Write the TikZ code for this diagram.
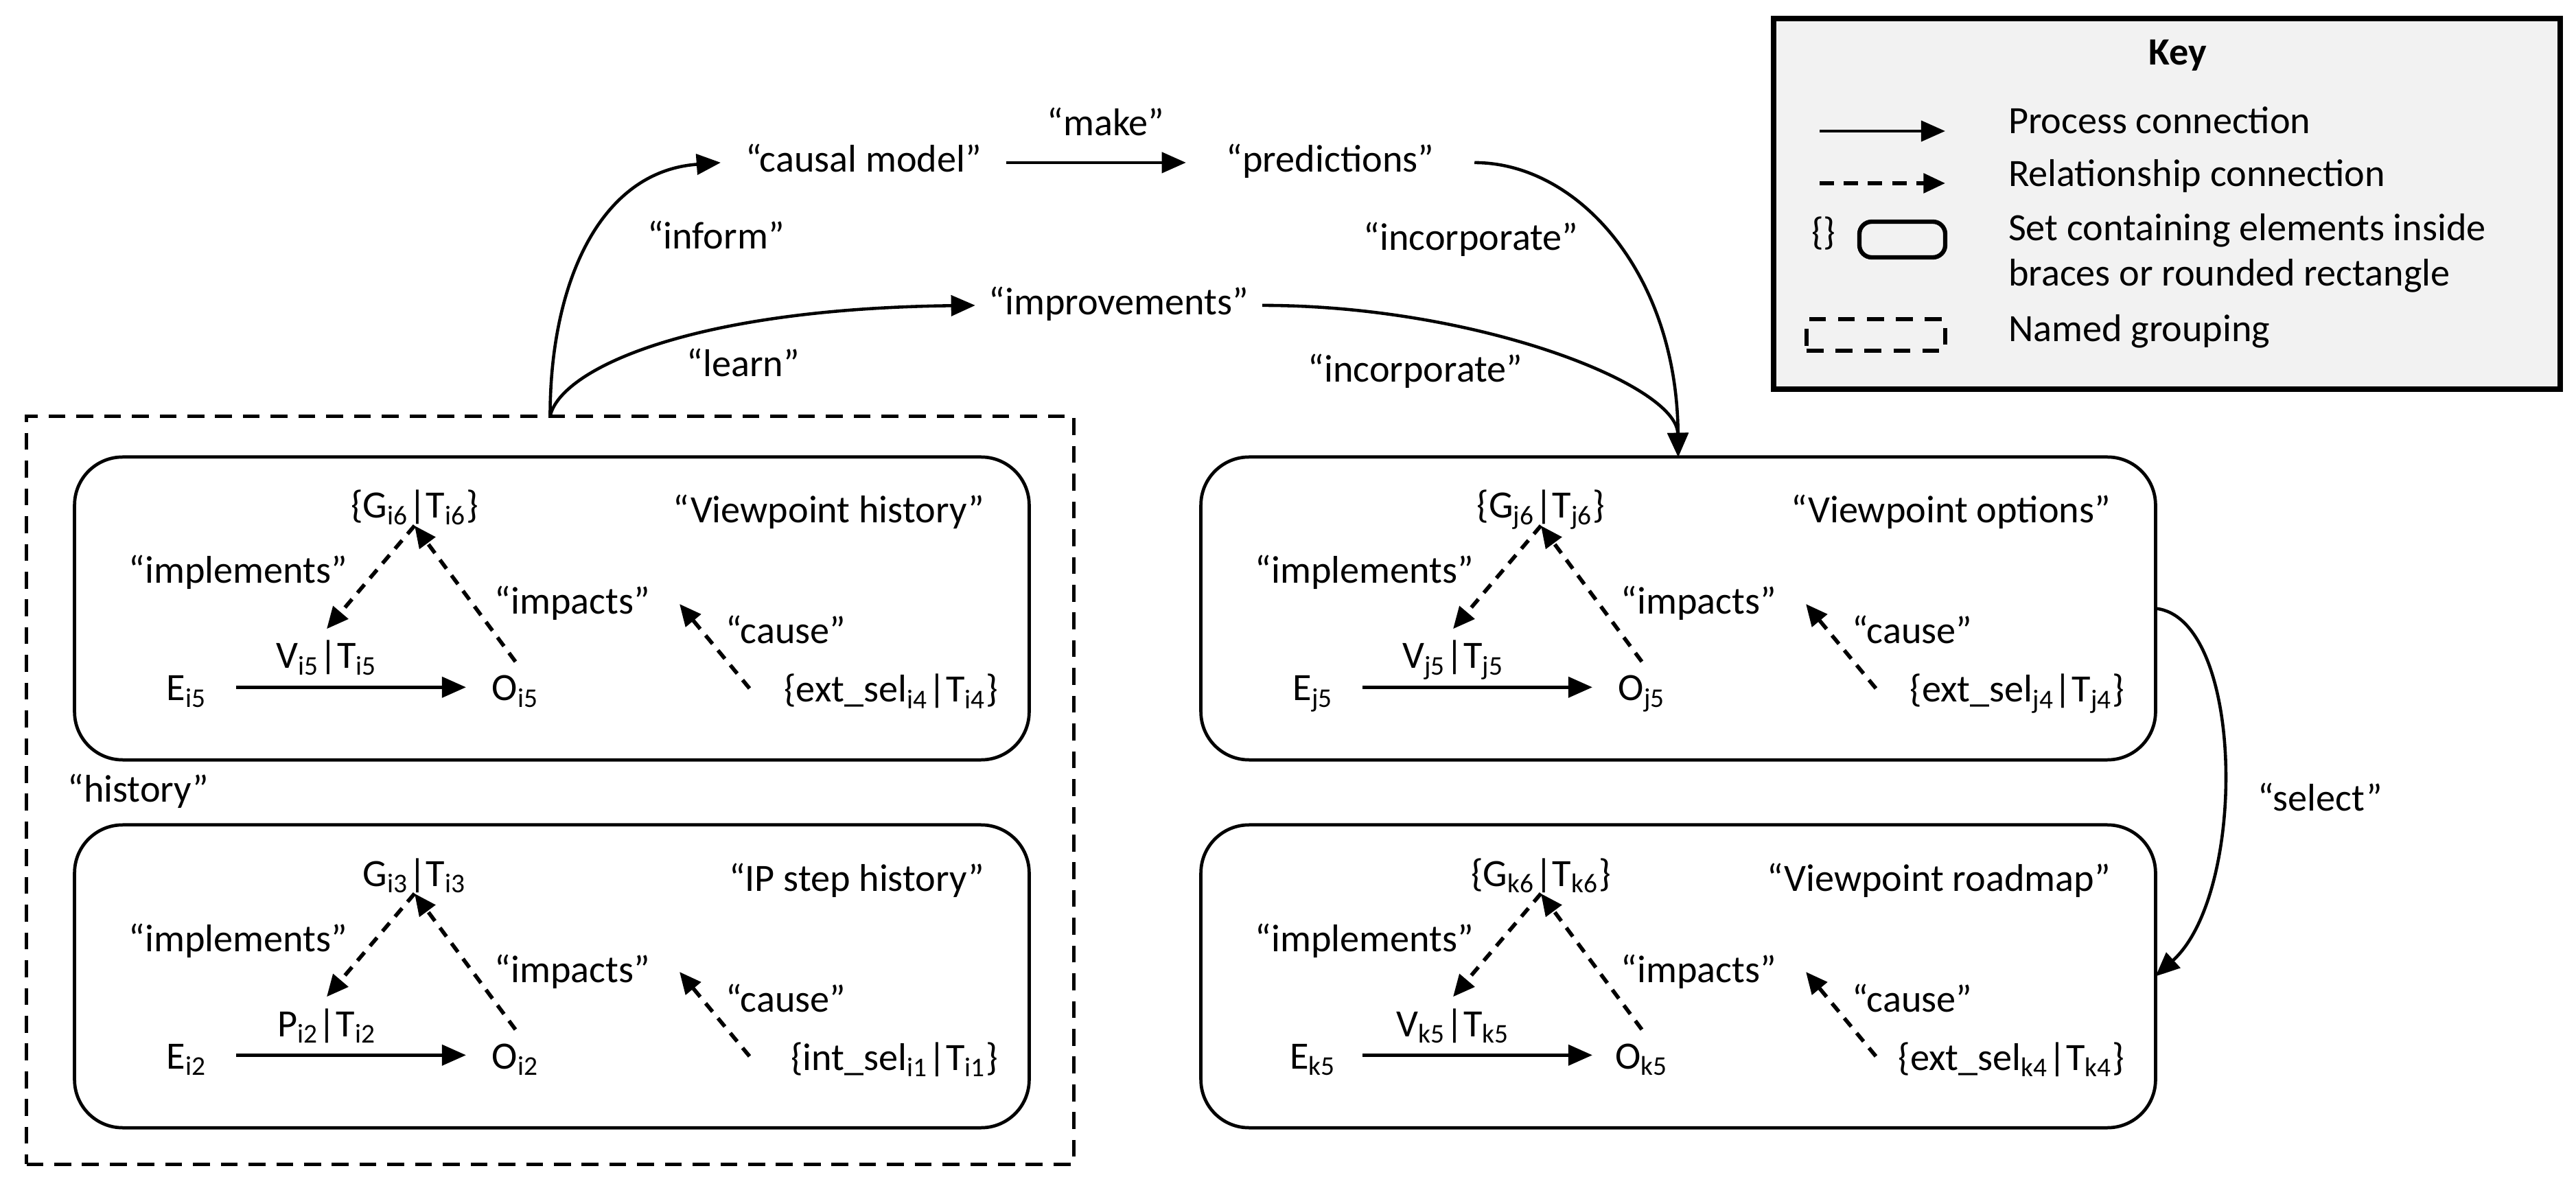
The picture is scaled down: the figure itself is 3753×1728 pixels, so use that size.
\documentclass[tikz,border=0pt]{standalone}
\usepackage{fontspec}
\setmainfont{Carlito}
\usetikzlibrary{arrows.meta}
\definecolor{keygray}{HTML}{F2F2F2}
\tikzset{
 lbl/.style={inner sep=0pt, outer sep=0pt},
 panelbox/.style={draw, line width=1.35pt, rounded corners=0.7cm, minimum width=13.9cm, minimum height=4.41cm, inner sep=0pt, outer sep=0pt},
 gnode/.style={anchor=base, text height=11.2pt, text depth=0pt, inner xsep=1pt, inner ysep=3.1pt, outer sep=0pt},
 vnode/.style={anchor=base, text height=11.2pt, text depth=0pt, inner xsep=1pt, inner ysep=5.2pt, outer sep=0pt},
 term/.style={anchor=base, text height=11.2pt, text depth=0pt, inner xsep=0pt, inner ysep=5pt, minimum width=1.44cm, outer sep=0pt},
 topterm/.style={anchor=base, text height=11.2pt, text depth=3.2pt, inner ysep=0pt, outer sep=0pt},
 proc/.style={line width=1.35pt, -{Triangle[length=10pt,width=8.5pt]}},
 rel/.style={line width=1.6pt, dash pattern=on 4.5pt off 3.5pt, -{Triangle[length=9pt,width=8pt]}},
 curve/.style={line width=1.3pt, -{Triangle[length=10pt,width=8.5pt]}},
}
\newcommand{\vpPanel}[9]{%
 \begin{scope}[shift={(#2,#3)}]
  \node[panelbox] (#1box) at (695,220.5) {};
  \node[lbl, anchor=base east] (#1title) at (1325,96) {#4};
  \node[gnode] (#1G) at (495,89) {#5};
  \node[vnode] (#1V) at (367,308) {#6};
  \node[term] (#1E) at (163,355) {#7};
  \node[term] (#1O) at (642,355) {#8};
  \node[lbl, anchor=base] (#1impl) at (238,184) {“implements”};
  \node[lbl, anchor=base] (#1imp) at (725,229) {“impacts”};
  \node[lbl, anchor=base] (#1cause) at (1036,272) {“cause”};
  \node[lbl, anchor=base east] (#1sel) at (1345,357) {#9};
  \coordinate (#1ct) at (983,337);
  \coordinate (#1ch) at (881,214);
  \draw[proc] (#1E) -- (#1O);
  \draw[rel] (#1G.south) -- (#1V.north);
  \draw[rel] (#1O.north) -- (#1G.south);
  \draw[rel] (#1ct) -- (#1ch);
 \end{scope}}
\begin{document}
\begin{tikzpicture}[x=0.01cm, y=-0.01cm, font=\fontsize{16}{19.2}\selectfont]
\useasboundingbox (0,0) rectangle (3753,1728);
% named grouping
\node[draw, line width=1.6pt, dash pattern=on 7pt off 4.5pt, minimum width=15.25cm, minimum height=10.89cm, inner sep=0pt, outer sep=0pt] (grp) at (801.5,1151.5) {};
\node[lbl, anchor=base] (hist) at (201.5,1169) {“history”};
% panels
\vpPanel{LT}{109}{666}{“Viewpoint history”}{\{G\textsubscript{i6}|T\textsubscript{i6}\}}{V\textsubscript{i5}|T\textsubscript{i5}}{E\textsubscript{i5}}{O\textsubscript{i5}}{\{ext\_sel\textsubscript{i4}|T\textsubscript{i4}\}}
\vpPanel{LB}{109}{1202}{“IP step history”}{G\textsubscript{i3}|T\textsubscript{i3}}{P\textsubscript{i2}|T\textsubscript{i2}}{E\textsubscript{i2}}{O\textsubscript{i2}}{\{int\_sel\textsubscript{i1}|T\textsubscript{i1}\}}
\vpPanel{RT}{1750}{666}{“Viewpoint options”}{\{G\textsubscript{j6}|T\textsubscript{j6}\}}{V\textsubscript{j5}|T\textsubscript{j5}}{E\textsubscript{j5}}{O\textsubscript{j5}}{\{ext\_sel\textsubscript{j4}|T\textsubscript{j4}\}}
\vpPanel{RB}{1750}{1202}{“Viewpoint roadmap”}{\{G\textsubscript{k6}|T\textsubscript{k6}\}}{V\textsubscript{k5}|T\textsubscript{k5}}{E\textsubscript{k5}}{O\textsubscript{k5}}{\{ext\_sel\textsubscript{k4}|T\textsubscript{k4}\}}
% top nodes
\node[topterm, inner xsep=0.36cm] (cm) at (1258,251) {“causal model”};
\node[topterm, inner xsep=0.59cm] (pred) at (1938,251) {“predictions”};
\node[topterm, inner xsep=0.2cm] (impr) at (1630,459) {“improvements”};
\node[lbl, anchor=base] (make) at (1611,198) {“make”};
\node[lbl, anchor=base] (inform) at (1043,363) {“inform”};
\node[lbl, anchor=base] (learn) at (1083,549) {“learn”};
\node[lbl, anchor=base] (inc1) at (2143,365) {“incorporate”};
\node[lbl, anchor=base] (inc2) at (2062,557) {“incorporate”};
\node[lbl, anchor=base] (sel) at (3380,1182) {“select”};
% connectors
\draw[curve] (grp.north) .. controls (801,420) and (870,250) .. (cm.west);
\draw[curve] (grp.north) .. controls (815,540) and (1000,450) .. (impr.west);
\draw[proc] (cm) -- (pred);
\draw[curve] (pred.east) .. controls (2300,237) and (2443,400) .. (RTbox.north);
\draw[curve] (impr.east) .. controls (2150,445) and (2443,560) .. (RTbox.north);
\draw[curve] (RTbox.east) .. controls (3270,900) and (3275,1300) .. (RBbox.east);
% key
\node[draw, line width=2.2pt, fill=keygray, minimum width=11.46cm, minimum height=5.4cm, inner sep=0pt, outer sep=0pt] (key) at (3157,297) {};
\node[lbl, anchor=base] (keyt) at (3173,95) {\bfseries Key};
\coordinate (k1a) at (2651,191);
\coordinate (k1b) at (2834,191);
\draw[proc] (k1a) -- (k1b);
\coordinate (k2a) at (2651,267);
\coordinate (k2b) at (2834,267);
\draw[rel, dash pattern=on 6pt off 4pt] (k2a) -- (k2b);
\node[lbl, anchor=base west] (kt1) at (2926,195) {Process connection};
\node[lbl, anchor=base west] (kt2) at (2926,272) {Relationship connection};
\node[lbl] (kbr) at (2657,340) {\{\}};
\node[draw, line width=1.8pt, rounded corners=0.18cm, minimum width=1.25cm, minimum height=0.52cm, inner sep=0pt, outer sep=0pt] (krr) at (2771.5,349) {};
\node[lbl, anchor=base west] (kt3) at (2926,351) {Set containing elements inside};
\node[lbl, anchor=base west] (kt4) at (2926,417) {braces or rounded rectangle};
\node[draw, line width=1.6pt, dash pattern=on 7pt off 5pt, minimum width=2.02cm, minimum height=0.46cm, inner sep=0pt, outer sep=0pt] (kdr) at (2733,488) {};
\node[lbl, anchor=base west] (kt5) at (2926,498) {Named grouping};
\end{tikzpicture}
\end{document}
